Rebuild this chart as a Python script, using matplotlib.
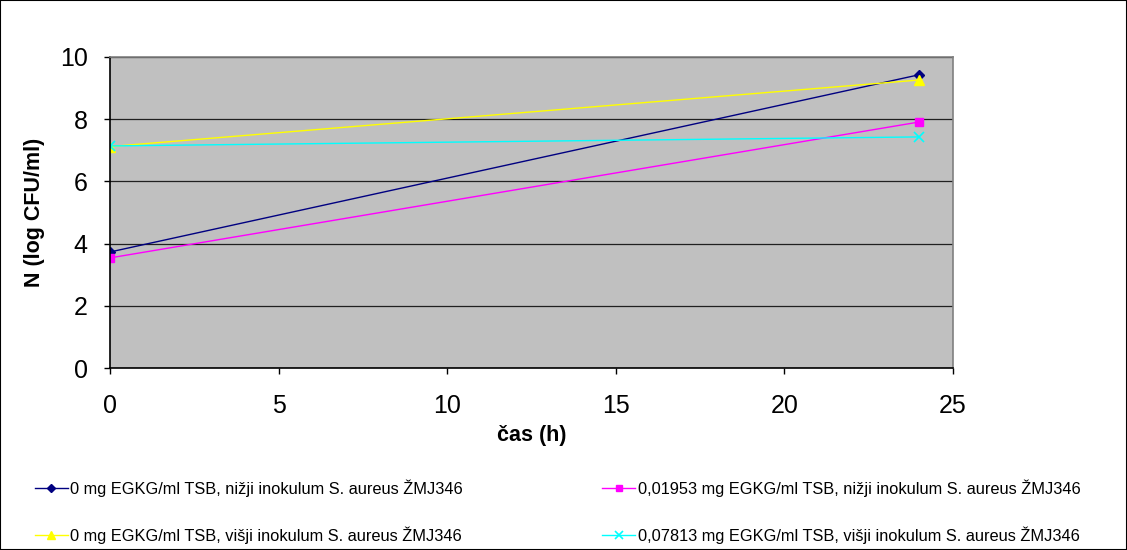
import matplotlib
matplotlib.use("Agg")
import matplotlib.pyplot as plt

plt.rcParams['font.family'] = ['Liberation Sans', 'DejaVu Sans']

# čas vzorčenja (h)
cas = [0, 24]

# log CFU/ml za posamezne pogoje
nizji_0 = [3.73, 9.43]
nizji_01953 = [3.54, 7.91]
visji_0 = [7.12, 9.26]
visji_07813 = [7.14, 7.43]

oznake = [
    "0 mg EGKG/ml TSB, nižji inokulum S. aureus ŽMJ346",
    "0,01953 mg EGKG/ml TSB, nižji inokulum S. aureus ŽMJ346",
    "0 mg EGKG/ml TSB, višji inokulum S. aureus ŽMJ346",
    "0,07813 mg EGKG/ml TSB, višji inokulum S. aureus ŽMJ346",
]

fig = plt.figure(figsize=(11.27, 5.5), dpi=100)
ax = fig.add_axes([0.0976, 0.3309, 0.7480, 0.5655])
ax.set_facecolor('#C0C0C0')

l1, = ax.plot(cas, nizji_0, color='#000080', marker='D', markersize=5, lw=1.0)
l2, = ax.plot(cas, nizji_01953, color='#FF00FF', marker='s', markersize=5.5, lw=1.0)
l3, = ax.plot(cas, visji_0, color='#FFFF00', marker='^', markersize=6.5, lw=1.0)
l4, = ax.plot(cas, visji_07813, color='#00FFFF', marker='x', markersize=6.5, mew=1.2, lw=1.0)

ax.set_xlim(0, 25)
ax.set_ylim(0, 10)
ax.set_xticks(range(0, 26, 5))
ax.set_yticks(range(0, 11, 2))
ax.grid(axis='y', color='#202020', lw=0.9)
ax.set_axisbelow(True)
ax.tick_params(direction='out', length=4, labelsize=18, width=1)
ax.tick_params(axis='x', pad=15)
ax.tick_params(axis='y', pad=12)

for s in ['left', 'bottom']:
    ax.spines[s].set_color('black')
    ax.spines[s].set_linewidth(1.2)
for s in ['top', 'right']:
    ax.spines[s].set_color('#808080')
    ax.spines[s].set_linewidth(1.2)

ax.set_xlabel("čas (h)", fontsize=15.5, fontweight='bold', labelpad=5)
ax.set_ylabel("N (log CFU/ml)", fontsize=15.5, fontweight='bold', labelpad=11)

fig.legend([l1, l3, l2, l4], [oznake[0], oznake[2], oznake[1], oznake[3]],
           ncol=2, loc='center left', bbox_to_anchor=(35 / 1127, 1 - 511.5 / 550),
           frameon=False, fontsize=11.8, handlelength=2, handletextpad=0.15,
           columnspacing=8.5, labelspacing=1.8, borderpad=0, borderaxespad=0,
           markerscale=0.8)

# okvir okoli celotne slike
fig.patches.append(plt.Rectangle((0, 0), 1, 1, transform=fig.transFigure,
                                 fill=False, edgecolor='black', lw=1.5))

fig.savefig("out.png", dpi=100)
